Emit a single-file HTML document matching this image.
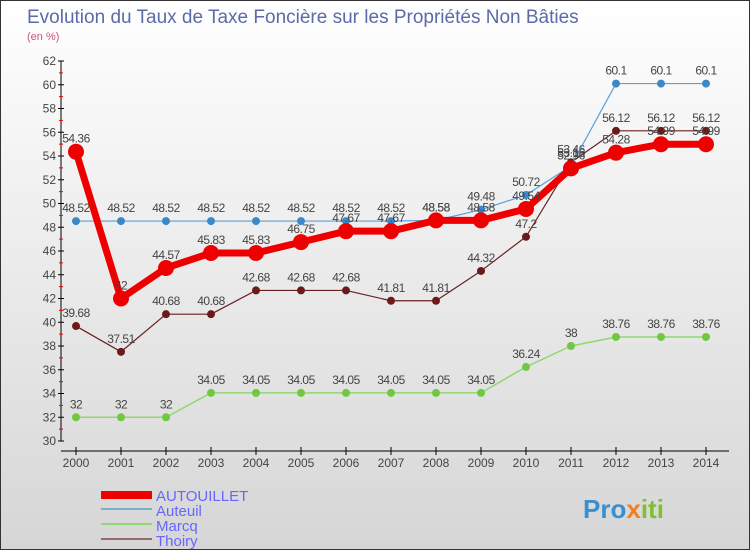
<!DOCTYPE html>
<html><head><meta charset="utf-8"><style>
body{margin:0}
#c{width:750px;height:550px;position:relative;overflow:hidden;font-family:"Liberation Sans",sans-serif;background:linear-gradient(#ffffff,#d6d6d6);box-sizing:border-box;border:1px solid #333}
</style></head><body>
<div id="c">
<svg id="s" width="750" height="550" style="position:absolute;left:0;top:0">
<text x="26" y="22" font-size="19" fill="#5b6aa8">Evolution du Taux de Taxe Foncière sur les Propriétés Non Bâties</text>
<text x="26" y="39" font-size="11" fill="#d0507a">(en %)</text>
<g id="axes"></g><g id="series"></g>
<g>
<rect x="100" y="490" width="51" height="8" fill="#ee0000"/>
<text x="155" y="500" font-size="15" fill="#6666ff">AUTOUILLET</text>
<line x1="100" y1="508" x2="151" y2="508" stroke="#7ab0d0" stroke-width="2"/>
<text x="155" y="515" font-size="15" fill="#6666ff">Auteuil</text>
<line x1="100" y1="523" x2="151" y2="523" stroke="#90d870" stroke-width="2"/>
<text x="155" y="530" font-size="15" fill="#6666ff">Marcq</text>
<line x1="100" y1="538" x2="151" y2="538" stroke="#9a6a6a" stroke-width="2"/>
<text x="155" y="545" font-size="15" fill="#6666ff">Thoiry</text>
</g>
<text x="582" y="517" font-size="26" font-weight="bold"><tspan fill="#3a8fd0">Pro</tspan><tspan fill="#f08020">x</tspan><tspan fill="#80c030">iti</tspan></text>
</svg>
</div>
<script>
const years=[2000,2001,2002,2003,2004,2005,2006,2007,2008,2009,2010,2011,2012,2013,2014];
const autouillet=[54.36,42,44.57,45.83,45.83,46.75,47.67,47.67,48.58,48.58,49.54,52.96,54.28,54.99,54.99];
const auteuil=[48.52,48.52,48.52,48.52,48.52,48.52,48.52,48.52,48.58,49.48,50.72,53.16,60.1,60.1,60.1];
const marcq=[32,32,32,34.05,34.05,34.05,34.05,34.05,34.05,34.05,36.24,38,38.76,38.76,38.76];
const thoiry=[39.68,37.51,40.68,40.68,42.68,42.68,42.68,41.81,41.81,44.32,47.2,53.46,56.12,56.12,56.12];
const yTicks=[30,32,34,36,38,40,42,44,46,48,50,52,54,56,58,60,62];
const NS="http://www.w3.org/2000/svg";
const X=i=>75+i*45, Y=v=>440-(v-30)*(380/32);
function mk(t,a,p){const e=document.createElementNS(NS,t);for(const k in a)e.setAttribute(k,a[k]);p.appendChild(e);return e;}
const ax=document.getElementById('axes');
const yl=mk('line',{x1:60,y1:60,x2:60,y2:440,stroke:'#000'},ax);


yTicks.forEach(v=>{
 mk('line',{x1:57,y1:Y(v),x2:63,y2:Y(v),stroke:'#000'},ax);
 mk('line',{x1:58,y1:Y(v+1),x2:62,y2:Y(v+1),stroke:v<62?'#e00':'none'},ax);
 const t=mk('text',{x:55,y:Y(v)+4,'font-size':12,fill:'#444','text-anchor':'end'},ax);t.textContent=v;
 
 
});
const xl=mk('line',{x1:60,y1:450,x2:728,y2:450,stroke:'#000'},ax);


years.forEach((y,i)=>{
 mk('line',{x1:X(i),y1:446,x2:X(i),y2:454,stroke:'#000'},ax);
 const t=mk('text',{x:X(i),y:466,'font-size':12,fill:'#444','text-anchor':'middle'},ax);t.textContent=y;
 
 
});
const sg=document.getElementById('series');
function series(d,name,col,w,r,dot){
 const g=mk('g',{},sg);
 
 
 mk('polyline',{points:d.map((v,i)=>X(i)+','+Y(v)).join(' '),fill:'none',stroke:col,'stroke-width':w,'stroke-linejoin':'round'},g);
 d.forEach((v,i)=>{
  const c=mk('circle',{cx:X(i),cy:Y(v),r:r,fill:dot,stroke:'none'},g);
  
  
  const t=mk('text',{x:X(i),y:Y(v)-9,'font-size':12,fill:'#444','text-anchor':'middle','letter-spacing':'-0.5'},g);t.textContent=v;
 });
}
series(thoiry,'thoiry','#6a2020',1.2,4,'#6a1a1a');
series(marcq,'marcq','#90d870',1.5,4,'#70c840');
series(auteuil,'auteuil','#5aa0d8',1.2,4,'#3a88c8');
series(autouillet,'autouillet','#ee0000',7,8,'#ee0000');
</script>
</body></html>
